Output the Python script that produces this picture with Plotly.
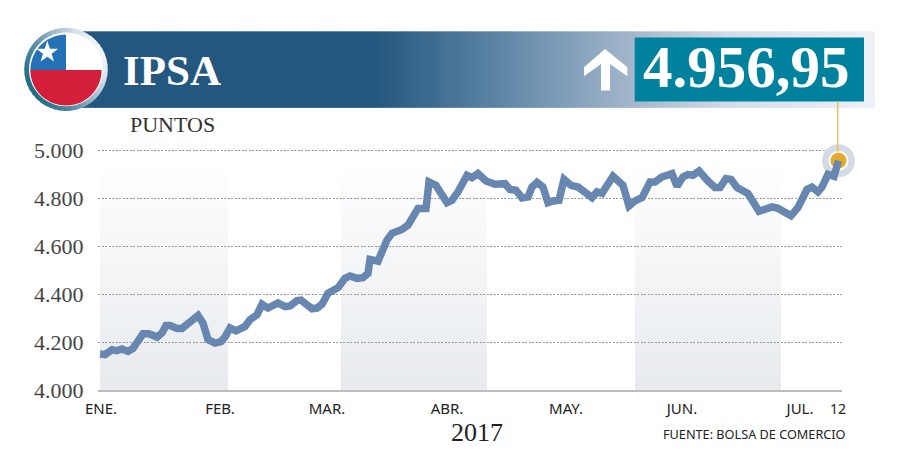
import math
import plotly.graph_objects as go

# ---------- data ----------
session_pos = [0,5,12,17,22,28,33,43,49,57,62,66,70,77,82,90,98,103,108,115,121,125,130,136,145,150,157,162,168,178,185,190,197,201,212,217,222,228,238,245,250,257,263,268,270,278,287,292,302,308,318,326,329,336,347,352,358,367,372,378,386,395,405,410,416,422,428,432,437,443,448,453,459,464,471,478,492,497,502,513,523,529,535,542,550,555,562,572,577,583,588,593,599,608,615,620,626,631,637,648,653,659,672,678,691,698,707,712,718,722,728,734,738.5]
ipsa_values = [4150,4148,4168,4164,4171,4161,4173,4235,4235,4221,4239,4269,4269,4257,4257,4286,4311,4279,4210,4196,4202,4221,4259,4247,4265,4293,4314,4358,4342,4363,4348,4351,4373,4375,4339,4342,4358,4404,4427,4466,4476,4466,4469,4487,4545,4538,4626,4654,4670,4688,4758,4758,4868,4854,4782,4792,4827,4896,4886,4903,4872,4859,4861,4837,4834,4802,4806,4847,4866,4847,4782,4789,4792,4879,4854,4847,4803,4827,4821,4892,4854,4768,4789,4803,4868,4868,4889,4903,4850,4889,4899,4896,4914,4872,4845,4845,4882,4879,4845,4820,4792,4746,4764,4758,4727,4762,4837,4847,4827,4847,4900,4892,4956.95]
y_ticks = [4000,4200,4400,4600,4800,5000]
y_labels = ["4.000","4.200","4.400","4.600","4.800","5.000"]
month_pos = [1,120,227,347,466,582,700,738]
month_labels = ["ENE.","FEB.","MAR.","ABR.","MAY.","JUN.","JUL.","<span style='font-size:14px'>12</span>"]
band_starts = [0,241,535]
band_ends = [128,387,681]
title = "IPSA"
last_value_label = "4.956,95"
unit_label = "PUNTOS"
year_label = "2017"
source_label = "FUENTE: BOLSA DE COMERCIO"

# ---------- geometry ----------
L, R, T, B = 98.0, 842.0, 147.6, 390.5
W, H = 900, 454
Y_MAX = 5010
def px(x): return (x - L) / (R - L)
def py(y): return (B - y) / (B - T)
def hexrgb(h): return tuple(int(h[i:i+2], 16) for i in (1, 3, 5))
def mix(a, b, t):
    a, b = hexrgb(a), hexrgb(b)
    return "rgb(%d,%d,%d)" % tuple(round(a[i] + (b[i]-a[i])*t) for i in range(3))
def grad(stops, x):
    for (x0, c0), (x1, c1) in zip(stops, stops[1:]):
        if x <= x1:
            return mix(c0, c1, (x-x0)/(x1-x0))
    return stops[-1][1]

shapes = []
def rect(x0, y0, x1, y1, color, layer="above"):
    shapes.append(dict(type="rect", xref="paper", yref="paper", x0=px(x0), x1=px(x1), y0=py(y0), y1=py(y1),
                       fillcolor=color, line=dict(width=0), layer=layer))
def poly(points, color, layer="above"):
    d = "M " + " L ".join(f"{px(x):.5f},{py(y):.5f}" for x, y in points) + " Z"
    shapes.append(dict(type="path", xref="paper", yref="paper", path=d, fillcolor=color, line=dict(width=0), layer=layer))
def arc(cx, cy, r, a0, a1, n=60):
    return [(cx + r*math.cos(math.radians(a0+(a1-a0)*i/n)), cy + r*math.sin(math.radians(a0+(a1-a0)*i/n))) for i in range(n+1)]

# chart background bands (vertical gradient)
steps = 24
for s, e in zip(band_starts, band_ends):
    for i in range(steps):
        v0 = 4000 + i*(960/steps)
        v1 = 4000 + (i+1)*(960/steps) + 1
        shapes.append(dict(type="rect", xref="x", yref="y", x0=s, x1=e, y0=v0, y1=v1,
                           fillcolor=mix("#e7eaee", "#ffffff", (i+0.5)/steps), line=dict(width=0), layer="below"))

# banner gradient
stops = [(60,"#24577f"),(375,"#24577f"),(470,"#4f7a9c"),(560,"#7d9cb8"),(635,"#a4b7cc"),(730,"#d3dce8"),(875,"#eef1f6")]
x = 60
while x < 875:
    rect(x, 30.5, min(x+5.5, 875), 107.3, grad(stops, x+2.5))
    x += 5

# value box
rect(634.7, 36.7, 864, 101, "#00829e")
# arrow
arrow = [(72,170),(135,115),(202,170),(202,197),(150,160),(150,240),(123,240),(123,160),(72,197)]
poly([(560+a/3, 10+b/3) for a, b in arrow], "#ffffff")

# flag ring
cx, cy = 66, 68.7
n_seg = 48
for i in range(n_seg):
    a0, a1 = i*360/n_seg, (i+1.2)*360/n_seg
    xx = math.cos(math.radians((a0+a1)/2))
    yy = math.sin(math.radians((a0+a1)/2))
    t = (xx*0.85 - yy*0.5 + 1) / 2
    col = grad([(0,"#1d6e86"),(0.35,"#5f90a8"),(0.7,"#b5c7d8"),(1,"#f4f6fa")], min(max(t,0),1))
    poly(arc(cx,cy,41.7,a0,a1,4) + arc(cx,cy,36,a1,a0,4), col)
poly(arc(cx,cy,37,0,360,90), "#ffffff")
# flag
fx, fy, fr = 66, 69.4, 35.6
poly(arc(fx,fy,fr,0,180,60), "#d31f3a")
poly([(fx,fy)] + arc(fx,fy,fr,180,270,30), "#2471b6")
poly([(fx,fy)] + arc(fx,fy,fr,270,360,30), "#ffffff")
star = []
for i in range(10):
    r = 11.5 if i % 2 == 0 else 4.5
    a = math.radians(-90 + i*36)
    star.append((47.3 + r*math.cos(a), 51.5 + r*math.sin(a)))
poly(star, "#ffffff")

# leader line
shapes.append(dict(type="line", xref="paper", yref="paper", x0=px(837.7), x1=px(837.7), y0=py(101), y1=py(152),
                   line=dict(color="#ebc26f", width=1.6), layer="above"))

# ---------- figure ----------
fig = go.Figure()
lx, ly = session_pos[-1], ipsa_values[-1]
fig.add_trace(go.Scatter(x=[lx], y=[ly], mode="markers", hoverinfo="skip", cliponaxis=False,
                         marker=dict(size=33, color="#d5dbe2", line=dict(width=0))))
fig.add_trace(go.Scatter(x=[lx], y=[ly], mode="markers", hoverinfo="skip", cliponaxis=False,
                         marker=dict(size=18, color="#e6a82f", line=dict(width=2, color="#ffffff"))))
fig.add_trace(go.Scatter(x=session_pos, y=ipsa_values, mode="lines", hoverinfo="skip", cliponaxis=False,
                         line=dict(color="#6786b0", width=7.5, shape="linear")))

def ann(text, x, y, size, family, color="#222222", anchor="center", bold=False):
    fig.add_annotation(xref="paper", yref="paper", x=px(x), y=py(y), text=f"<b>{text}</b>" if bold else text,
                       showarrow=False, xanchor=anchor, yanchor="middle",
                       font=dict(size=size, family=family, color=color))

ann(title, 121, 70, 43, "Liberation Serif", "#ffffff", "left", True)
ann(last_value_label, 746.5, 66.5, 59, "Liberation Serif", "#ffffff", "center", True)
ann(unit_label, 172.5, 124, 22, "Liberation Serif", "#333333")
ann(year_label, 477, 433, 26, "Liberation Serif", "#222222")
ann(source_label, 754.5, 435, 12.7, "Noto Sans", "#222222")

fig.update_layout(
    width=W, height=H,
    margin=dict(l=L, r=W-R, t=T, b=H-B, pad=0),
    paper_bgcolor="#ffffff", plot_bgcolor="rgba(0,0,0,0)",
    showlegend=False, shapes=shapes,
    xaxis=dict(range=[-2, 742], tickmode="array", tickvals=month_pos, ticktext=month_labels,
               showgrid=False, zeroline=False, showline=True, linecolor="#bdbdbd", linewidth=2,
               ticks="outside", ticklen=4, tickcolor="rgba(0,0,0,0)", tickangle=0,
               tickfont=dict(size=15, family="Noto Sans", color="#222222")),
    yaxis=dict(range=[4000, Y_MAX], tickmode="array", tickvals=y_ticks, ticktext=y_labels,
               showgrid=True, gridcolor="#999999", griddash="2px,1.5px", gridwidth=1,
               zeroline=False, showline=False,
               ticks="outside", ticklen=9, tickcolor="rgba(0,0,0,0)",
               tickfont=dict(size=22, family="Liberation Serif", color="#444444")),
)
fig.write_html("out.html", config={"displayModeBar": False},
               post_script="document.body.style.margin='0';")
